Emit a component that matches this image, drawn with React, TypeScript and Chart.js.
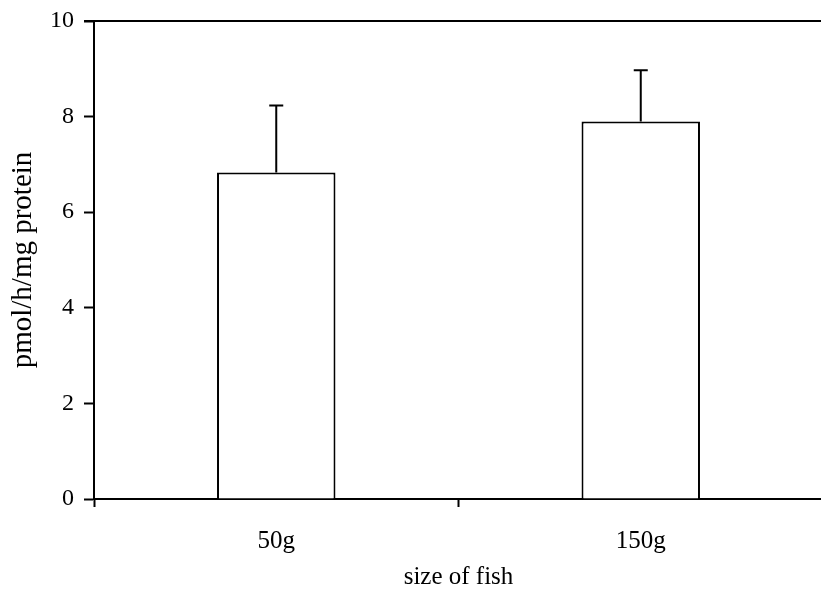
import React, { useEffect, useRef } from "react";
import { Chart, registerables } from "chart.js";

Chart.register(...registerables);

// Enzyme activity by fish size (mean with upper SD)
const sizes = ["50g", "150g"];
const activity = [6.83, 7.9];
const activitySd = [1.4, 1.07];
const yTicks = [0, 2, 4, 6, 8, 10];

const FONT = "'Liberation Serif', 'Times New Roman', serif";

// Upper-only error bars with a short cap
const errorBars = {
  id: "errorBars",
  afterDatasetsDraw(chart: any) {
    const meta = chart.getDatasetMeta(0);
    const y = chart.scales.y;
    const ctx = chart.ctx;
    ctx.save();
    ctx.strokeStyle = "#000";
    ctx.lineWidth = 2;
    meta.data.forEach((bar: any, i: number) => {
      const top = y.getPixelForValue(activity[i] + activitySd[i]);
      ctx.beginPath();
      ctx.moveTo(bar.x, bar.y);
      ctx.lineTo(bar.x, top);
      ctx.moveTo(bar.x - 7, top);
      ctx.lineTo(bar.x + 7, top);
      ctx.stroke();
    });
    ctx.restore();
  },
};

// Top frame line of the plot area
const topFrame = {
  id: "topFrame",
  afterDraw(chart: any) {
    const { left, right, top } = chart.chartArea;
    const ctx = chart.ctx;
    ctx.save();
    ctx.strokeStyle = "#000";
    ctx.lineWidth = 2;
    ctx.beginPath();
    ctx.moveTo(left - 10, top);
    ctx.lineTo(right, top);
    ctx.stroke();
    ctx.restore();
  },
};

export default function App() {
  const ref = useRef<HTMLCanvasElement>(null);

  useEffect(() => {
    if (!ref.current) return;
    const chart = new Chart(ref.current, {
      type: "bar",
      data: {
        labels: sizes,
        datasets: [
          {
            data: activity,
            backgroundColor: "#fff",
            borderColor: "#000",
            borderWidth: 2,
            categoryPercentage: 1,
            barPercentage: 0.325,
          },
        ],
      },
      options: {
        responsive: false,
        animation: false,
        layout: { padding: { top: 21, right: 3, left: 0, bottom: 0 } },
        plugins: { legend: { display: false }, tooltip: { enabled: false } },
        scales: {
          x: {
            afterFit: (s: any) => {
              s.height = 95;
            },
            grid: {
              offset: true,
              drawOnChartArea: false,
              tickLength: 8,
              tickWidth: 2,
              tickColor: "#000",
            },
            border: { color: "#000", width: 2 },
            ticks: {
              color: "#000",
              padding: 19,
              font: { family: FONT, size: 25 },
            },
            title: {
              display: true,
              text: "size of fish",
              color: "#000",
              padding: { top: 0, bottom: 2 },
              font: { family: FONT, size: 25 },
            },
          },
          y: {
            min: 0,
            max: 10,
            afterFit: (s: any) => {
              s.width = 94;
              s.paddingTop = 0;
              s.paddingBottom = 0;
            },
            afterBuildTicks: (s: any) => {
              s.ticks = yTicks.map((v) => ({ value: v }));
            },
            grid: {
              drawOnChartArea: false,
              tickLength: 10,
              tickWidth: 2,
              tickColor: "#000",
            },
            border: { color: "#000", width: 2 },
            ticks: {
              color: "#000",
              padding: 10,
              font: { family: FONT, size: 24 },
            },
            title: {
              display: true,
              text: "pmol/h/mg protein",
              color: "#000",
              padding: 6,
              font: { family: FONT, size: 29 },
            },
          },
        },
      },
      plugins: [errorBars, topFrame],
    });
    return () => chart.destroy();
  }, []);

  return (
    <div
      style={{
        position: "fixed",
        left: 0,
        top: 0,
        width: 821,
        height: 594,
        overflow: "hidden",
        background: "#fff",
      }}
    >
      <canvas ref={ref} width={826} height={594} style={{ display: "block" }} />
    </div>
  );
}
